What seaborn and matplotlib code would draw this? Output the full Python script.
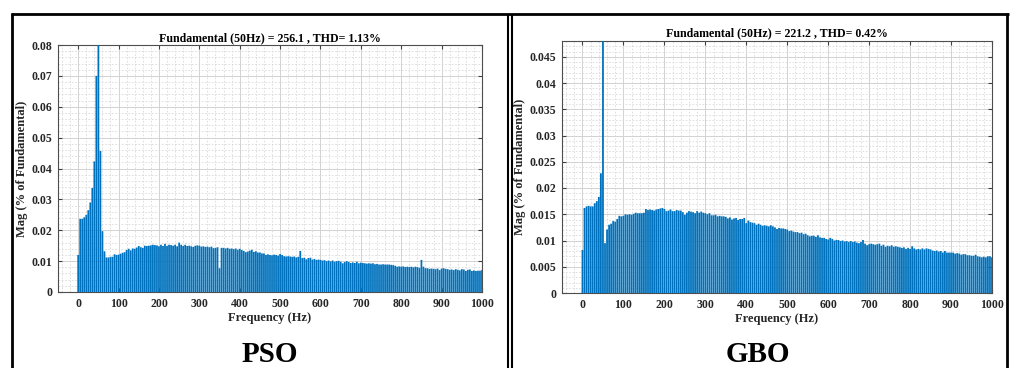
import numpy as np
import pandas as pd
import matplotlib
matplotlib.use("Agg")
import matplotlib.pyplot as plt
from matplotlib.lines import Line2D
from matplotlib.ticker import MultipleLocator
import seaborn as sns

freq = list(range(0, 1001, 5))

pso_mag = [
    0.0120, 0.0237, 0.0237, 0.0242, 0.0250, 0.0265, 0.0290, 0.0337, 0.0423, 0.0700,  # 0-45
    1.0000, 0.0457, 0.0197, 0.0132, 0.0112, 0.0112, 0.0114, 0.0114, 0.0122, 0.0120,  # 50-95
    0.0121, 0.0124, 0.0127, 0.0129, 0.0136, 0.0140, 0.0135, 0.0141, 0.0140, 0.0144,  # 100-145
    0.0149, 0.0145, 0.0143, 0.0150, 0.0149, 0.0150, 0.0151, 0.0153, 0.0152, 0.0151,  # 150-195
    0.0148, 0.0153, 0.0149, 0.0156, 0.0149, 0.0153, 0.0152, 0.0150, 0.0153, 0.0148,  # 200-245
    0.0160, 0.0153, 0.0149, 0.0153, 0.0149, 0.0150, 0.0148, 0.0146, 0.0150, 0.0151,  # 250-295
    0.0150, 0.0147, 0.0148, 0.0146, 0.0147, 0.0145, 0.0147, 0.0142, 0.0143, 0.0145,  # 300-345
    0.0077, 0.0143, 0.0143, 0.0141, 0.0143, 0.0140, 0.0141, 0.0139, 0.0141, 0.0137,  # 350-395
    0.0140, 0.0136, 0.0133, 0.0129, 0.0131, 0.0134, 0.0137, 0.0130, 0.0132, 0.0128,  # 400-445
    0.0128, 0.0125, 0.0125, 0.0120, 0.0122, 0.0120, 0.0119, 0.0121, 0.0120, 0.0118,  # 450-495
    0.0123, 0.0120, 0.0116, 0.0115, 0.0116, 0.0115, 0.0114, 0.0115, 0.0112, 0.0114,  # 500-545
    0.0133, 0.0110, 0.0111, 0.0106, 0.0110, 0.0111, 0.0105, 0.0107, 0.0104, 0.0105,  # 550-595
    0.0104, 0.0102, 0.0103, 0.0100, 0.0102, 0.0099, 0.0102, 0.0098, 0.0100, 0.0101,  # 600-645
    0.0098, 0.0093, 0.0097, 0.0100, 0.0097, 0.0094, 0.0096, 0.0094, 0.0098, 0.0093,  # 650-695
    0.0095, 0.0094, 0.0093, 0.0092, 0.0093, 0.0092, 0.0093, 0.0090, 0.0091, 0.0089,  # 700-745
    0.0089, 0.0090, 0.0089, 0.0089, 0.0089, 0.0088, 0.0087, 0.0085, 0.0082, 0.0083,  # 750-795
    0.0082, 0.0083, 0.0081, 0.0082, 0.0081, 0.0082, 0.0080, 0.0082, 0.0081, 0.0078,  # 800-845
    0.0104, 0.0082, 0.0077, 0.0077, 0.0075, 0.0076, 0.0075, 0.0074, 0.0076, 0.0071,  # 850-895
    0.0076, 0.0077, 0.0075, 0.0074, 0.0072, 0.0073, 0.0071, 0.0074, 0.0072, 0.0070,  # 900-945
    0.0074, 0.0073, 0.0068, 0.0072, 0.0073, 0.0068, 0.0070, 0.0068, 0.0069, 0.0069,  # 950-995
    0.0071,                                                                          # 1000
]

gbo_mag = [
    0.0082, 0.0162, 0.0165, 0.0166, 0.0165, 0.0165, 0.0171, 0.0175, 0.0183, 0.0228,  # 0-45
    1.0000, 0.0095, 0.0121, 0.0130, 0.0132, 0.0137, 0.0136, 0.0141, 0.0147, 0.0146,  # 50-95
    0.0147, 0.0150, 0.0149, 0.0150, 0.0149, 0.0151, 0.0153, 0.0152, 0.0152, 0.0152,  # 100-145
    0.0153, 0.0160, 0.0158, 0.0159, 0.0158, 0.0157, 0.0159, 0.0160, 0.0161, 0.0162,  # 150-195
    0.0160, 0.0156, 0.0157, 0.0159, 0.0156, 0.0156, 0.0158, 0.0157, 0.0157, 0.0154,  # 200-245
    0.0149, 0.0153, 0.0156, 0.0155, 0.0154, 0.0152, 0.0156, 0.0153, 0.0155, 0.0153,  # 250-295
    0.0152, 0.0150, 0.0152, 0.0148, 0.0148, 0.0149, 0.0146, 0.0147, 0.0146, 0.0146,  # 300-345
    0.0145, 0.0142, 0.0144, 0.0140, 0.0142, 0.0143, 0.0139, 0.0141, 0.0141, 0.0143,  # 350-395
    0.0133, 0.0138, 0.0135, 0.0134, 0.0133, 0.0130, 0.0132, 0.0130, 0.0128, 0.0129,  # 400-445
    0.0128, 0.0127, 0.0129, 0.0127, 0.0125, 0.0122, 0.0124, 0.0123, 0.0123, 0.0122,  # 450-495
    0.0121, 0.0118, 0.0119, 0.0117, 0.0116, 0.0116, 0.0114, 0.0115, 0.0112, 0.0113,  # 500-545
    0.0110, 0.0108, 0.0109, 0.0109, 0.0107, 0.0110, 0.0106, 0.0105, 0.0105, 0.0103,  # 550-595
    0.0102, 0.0105, 0.0103, 0.0100, 0.0101, 0.0101, 0.0099, 0.0100, 0.0098, 0.0099,  # 600-645
    0.0097, 0.0099, 0.0097, 0.0098, 0.0096, 0.0095, 0.0097, 0.0101, 0.0094, 0.0091,  # 650-695
    0.0093, 0.0094, 0.0093, 0.0092, 0.0093, 0.0094, 0.0090, 0.0092, 0.0088, 0.0090,  # 700-745
    0.0089, 0.0091, 0.0088, 0.0089, 0.0088, 0.0087, 0.0086, 0.0087, 0.0084, 0.0086,  # 750-795
    0.0084, 0.0089, 0.0085, 0.0083, 0.0084, 0.0083, 0.0085, 0.0083, 0.0085, 0.0084,  # 800-845
    0.0083, 0.0081, 0.0080, 0.0081, 0.0079, 0.0080, 0.0077, 0.0080, 0.0077, 0.0077,  # 850-895
    0.0077, 0.0077, 0.0075, 0.0076, 0.0075, 0.0073, 0.0074, 0.0074, 0.0072, 0.0072,  # 900-945
    0.0071, 0.0071, 0.0073, 0.0070, 0.0069, 0.0068, 0.0069, 0.0068, 0.0070, 0.0070,  # 950-995
    0.0068,                                                                          # 1000
]

titles = ["Fundamental (50Hz) = 256.1 , THD= 1.13%",
          "Fundamental (50Hz) = 221.2 , THD= 0.42%"]
captions = ["PSO", "GBO"]
ylims = [0.08, 0.048]
ymajor = [0.01, 0.005]
yminor = [0.002, 0.001]
x_ticks = list(range(0, 1001, 100))

sns.set_theme(style="white")
plt.rcParams["font.family"] = ["Liberation Serif", "DejaVu Serif"]
plt.rcParams["font.weight"] = "bold"

W, H = 1016, 368
fig = plt.figure(figsize=(W / 100, H / 100), dpi=100)
fig.patch.set_facecolor("white")

def box(px0, py0, px1, py1):
    return [px0 / W, 1 - py1 / H, (px1 - px0) / W, (py1 - py0) / H]

axes_px = [(58, 45, 482, 292), (562, 41, 992, 293)]
title_y = [38, 33]
caption_x = [270, 758]
bar_color = "#0072BD"

for i, (mag, ttl) in enumerate([(pso_mag, titles[0]), (gbo_mag, titles[1])]):
    ax = fig.add_axes(box(*axes_px[i]))
    df = pd.DataFrame({"freq": freq, "mag": mag})
    sns.barplot(data=df, x="freq", y="mag", native_scale=True, width=0.88,
                color=bar_color, saturation=1, errorbar=None, ax=ax,
                edgecolor="none", linewidth=0, zorder=3)
    for p in ax.patches:
        p.set_snap(False)
        p.set_antialiased(True)
    ax.set_xlim(-50, 1000)
    ax.set_ylim(0, ylims[i])
    ax.set_xticks(x_ticks)
    ax.xaxis.set_minor_locator(MultipleLocator(20))
    ax.yaxis.set_major_locator(MultipleLocator(ymajor[i]))
    ax.yaxis.set_minor_locator(MultipleLocator(yminor[i]))
    ax.set_ylim(0, ylims[i])
    ax.set_yticklabels([("%g" % v) for v in ax.get_yticks()])
    ax.grid(True, which="major", color="#d2d2d2", linewidth=0.7, zorder=0)
    ax.grid(True, which="minor", color="#d9d9d9", linewidth=0.6, linestyle=(0, (2, 2)), zorder=0)
    ax.set_axisbelow(True)
    ax.tick_params(axis="both", which="major", direction="in", length=3, width=0.8,
                   top=True, right=True, bottom=True, left=True,
                   labelsize=8.5, color="#404040", pad=4)
    ax.tick_params(axis="both", which="minor", length=0)
    for lbl in ax.get_xticklabels() + ax.get_yticklabels():
        lbl.set_fontweight("bold")
        lbl.set_color("#262626")
    for s in ax.spines.values():
        s.set_color("#4d4d4d")
        s.set_linewidth(0.8)
    ax.set_xlabel("Frequency (Hz)", fontsize=9, fontweight="bold", color="#262626", labelpad=2)
    ax.set_ylabel("Mag (% of Fundamental)", fontsize=9, fontweight="bold", color="#262626", labelpad=3)
    cx = (axes_px[i][0] + axes_px[i][2]) / 2
    fig.text(cx / W, 1 - title_y[i] / H, ttl, ha="center", va="center",
             fontsize=8.6, fontweight="bold", color="black")
    fig.text(caption_x[i] / W, 1 - 354 / H, captions[i], ha="center", va="center",
             fontsize=21, fontweight="bold", color="black")

# panel frames
def fline(xs, ys, lw=2.0):
    fig.add_artist(Line2D([x / W for x in xs], [1 - y / H for y in ys],
                          color="black", linewidth=lw, solid_capstyle="butt"))

fline([12, 12], [13, 370])
fline([11, 1009], [14, 14])
fline([508, 508], [14, 370], lw=1.5)
fline([512, 512], [14, 370], lw=1.5)
fline([1007, 1007], [13, 370])

fig.savefig("out.png", dpi=100, facecolor="white")
